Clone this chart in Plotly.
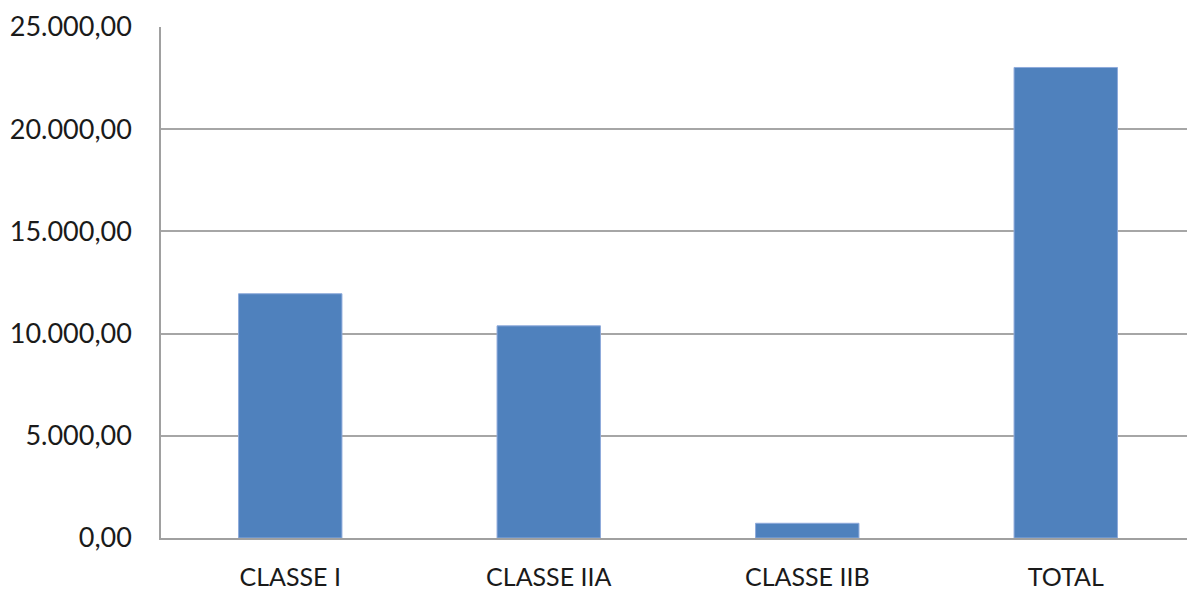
import plotly.graph_objects as go

categories = ["CLASSE I", "CLASSE IIA", "CLASSE IIB", "TOTAL"]
values = [11950, 10380, 720, 23020]
y_ticks = [0, 5000, 10000, 15000, 20000, 25000]

fig = go.Figure()
fig.add_trace(go.Bar(
    x=categories, y=values,
    marker=dict(color="#4F81BD", line=dict(color="#8EAADB", width=1)),
    width=0.4,
))

fig.update_layout(
    width=1187, height=589,
    margin=dict(l=161, r=0, t=27, b=51, autoexpand=False),
    paper_bgcolor="white", plot_bgcolor="white",
    separators=",.",
    showlegend=False,
    font=dict(family="Lato", size=25, color="#1a1a1a"),
    bargap=0.6,
)
fig.update_xaxes(
    range=[-0.5, 3.469], automargin=False,
    showline=True, linecolor="#A0A0A0", linewidth=1.5,
    showgrid=False, ticks="", ticklabelstandoff=16,
    tickfont=dict(size=25),
)
fig.update_yaxes(
    range=[0, 25000], tickvals=y_ticks, tickformat=",.2f", automargin=False,
    showgrid=True, gridcolor="#A6A6A6", gridwidth=1.5,
    showline=True, linecolor="#A0A0A0", linewidth=1.5,
    zeroline=False, ticks="", ticklabelstandoff=22,
    tickfont=dict(size=27),
)

fig.write_html("out.html")
